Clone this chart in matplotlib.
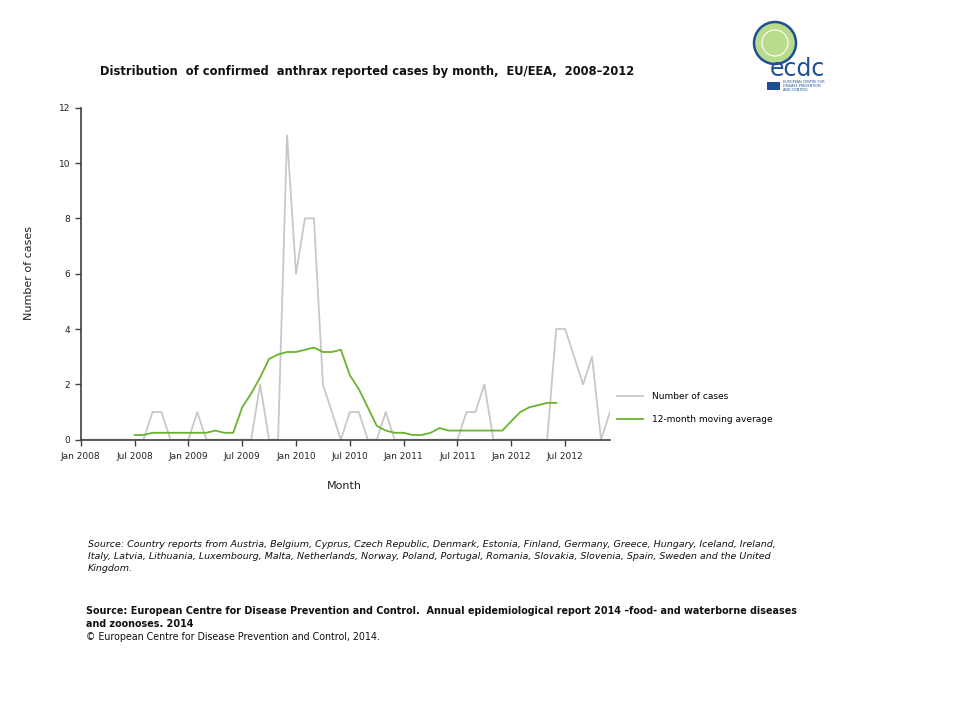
import numpy as np
import matplotlib
matplotlib.use("Agg")
from matplotlib import pyplot as plt
from matplotlib.patches import Circle, Rectangle

# monthly counts, Jan 2008 .. Dec 2012
months = np.arange(60)
cases = [0, 0, 0, 0, 0, 0, 0, 0, 1, 1, 0, 0,
         0, 1, 0, 0, 0, 0, 0, 0, 2, 0, 0, 11,
         6, 8, 8, 2, 1, 0, 1, 1, 0, 0, 1, 0,
         0, 0, 0, 0, 0, 0, 0, 1, 1, 2, 0, 0,
         0, 0, 0, 0, 0, 4, 4, 3, 2, 3, 0, 1]

# 12-month moving average, drawn from Jul 2008 to Jun 2012
ma_months = np.arange(6, 54)
moving_avg = [0.17, 0.17, 0.25, 0.25, 0.25, 0.25, 0.25, 0.25, 0.25, 0.33, 0.25, 0.25,
              1.17, 1.67, 2.25, 2.92, 3.08, 3.17, 3.17, 3.25, 3.33, 3.17, 3.17, 3.25,
              2.33, 1.83, 1.17, 0.50, 0.33, 0.25, 0.25, 0.17, 0.17, 0.25, 0.42, 0.33,
              0.33, 0.33, 0.33, 0.33, 0.33, 0.33, 0.67, 1.00, 1.17, 1.25, 1.33, 1.33]

tick_pos = np.arange(0, 60, 6)
tick_labels = ["Jan 2008", "Jul 2008", "Jan 2009", "Jul 2009", "Jan 2010",
               "Jul 2010", "Jan 2011", "Jul 2011", "Jan 2012", "Jul 2012"]

grey = "#c8c8c8"
green = "#6ab42d"
axis_col = "#404040"

fig = plt.figure(figsize=(9.6, 7.2), dpi=100)
W, H = 960, 720
# axes box in pixels: x 80.7..610, y 107.7..439.7
ax = fig.add_axes([80.7 / W, 1 - 439.7 / H, (610 - 80.7) / W, 332 / H])

ax.plot(months, cases, color=grey, lw=1.3, label="Number of cases", zorder=2)
ax.plot(ma_months, moving_avg, color=green, lw=1.3, label="12-month moving average", zorder=3)

ax.set_xlim(0, 59)
ax.set_ylim(0, 12)
ax.set_yticks(range(0, 13, 2))
ax.set_xticks(tick_pos)
ax.set_xticklabels(tick_labels)
for s in ["top", "right"]:
    ax.spines[s].set_visible(False)
for s in ["left", "bottom"]:
    ax.spines[s].set_color(axis_col)
    ax.spines[s].set_linewidth(1.2)
ax.tick_params(axis="both", colors=axis_col, labelcolor="#222222", labelsize=6.5,
               length=4, width=1, direction="out")
ax.tick_params(axis="x", pad=5)

fig.text(344 / W, 1 - 486 / H, "Month", ha="center", va="center", fontsize=8, color="#222222")
fig.text(29 / W, 1 - 273 / H, "Number of cases", ha="center", va="center", rotation=90,
         fontsize=8, color="#222222")

fig.text(100 / W, 1 - 72 / H,
         "Distribution  of confirmed  anthrax reported cases by month,  EU/EEA,  2008\u20132012",
         ha="left", va="center", fontsize=8.3, fontweight="bold", color="#111111")

leg = ax.legend(loc="upper left", bbox_to_anchor=(1.007, 0.155), frameon=False,
                fontsize=6.5, handlelength=2.8, handletextpad=1.0, labelspacing=1.55,
                borderaxespad=0)

# footer
src = ("Source: Country reports from Austria, Belgium, Cyprus, Czech Republic, Denmark, Estonia, Finland, Germany, Greece, Hungary, Iceland, Ireland,\n"
       "Italy, Latvia, Lithuania, Luxembourg, Malta, Netherlands, Norway, Poland, Portugal, Romania, Slovakia, Slovenia, Spain, Sweden and the United\n"
       "Kingdom.")
fig.text(88 / W, 1 - 540 / H, src, ha="left", va="top", fontsize=6.8, style="italic",
         color="#111111", linespacing=1.45)
fig.text(86 / W, 1 - 606 / H,
         "Source: European Centre for Disease Prevention and Control.  Annual epidemiological report 2014 \u2013food- and waterborne diseases\nand zoonoses. 2014",
         ha="left", va="top", fontsize=6.95, fontweight="bold", color="#111111", linespacing=1.4)
fig.text(86 / W, 1 - 637 / H, "\u00a9 European Centre for Disease Prevention and Control, 2014.",
         ha="left", va="center", fontsize=6.85, color="#111111")

# rough ECDC logo
lax = fig.add_axes([745 / W, 1 - 95 / H, 90 / W, 75 / H])
lax.set_xlim(0, 90)
lax.set_ylim(75, 0)
lax.axis("off")
lax.add_patch(Circle((30, 23), 21, facecolor="#b8dc8c", edgecolor="#1f4e96", lw=1.8))
lax.add_patch(Circle((30, 23), 13, facecolor="none", edgecolor="white", lw=0.8))
lax.text(52, 49, "ecdc", ha="center", va="center", fontsize=17, color="#1f4e96")
lax.add_patch(Rectangle((22, 62), 13, 8, facecolor="#1f4e96"))
lax.text(38, 66, "EUROPEAN CENTRE FOR\nDISEASE PREVENTION\nAND CONTROL", ha="left", va="center",
         fontsize=2.4, color="#1f4e96", linespacing=1.1)

fig.savefig("out.png", dpi=100)
